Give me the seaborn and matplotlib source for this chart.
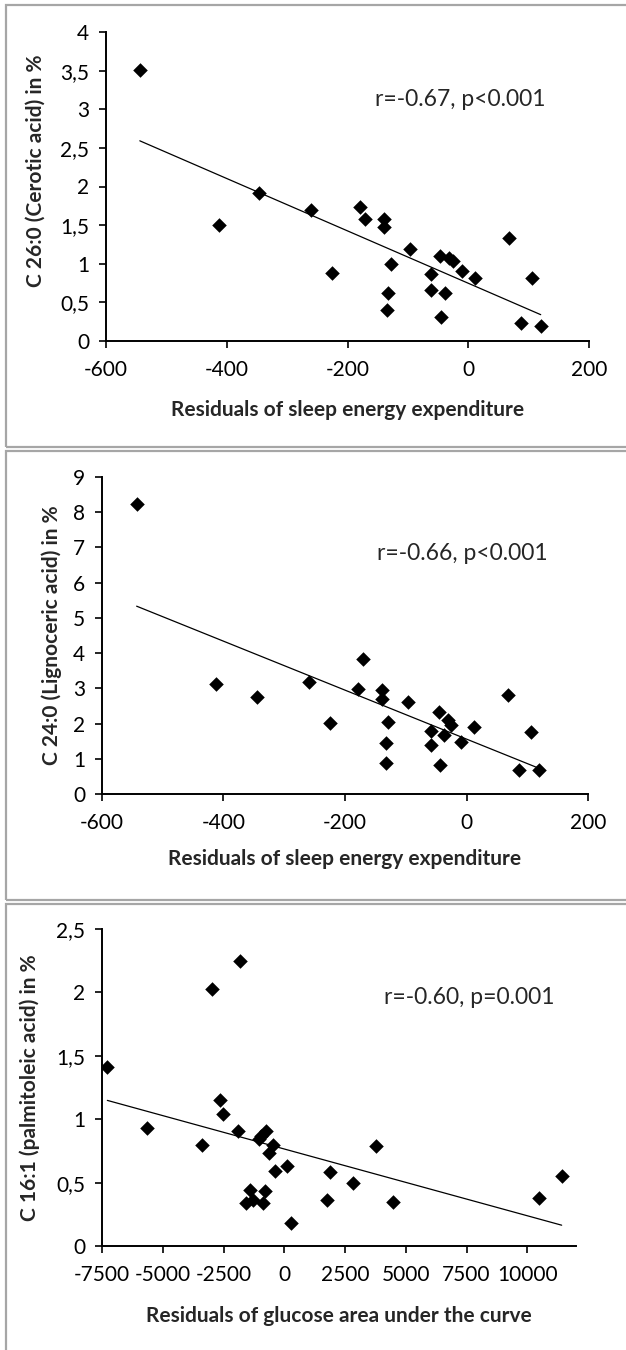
import numpy as np
import seaborn as sns
import matplotlib.pyplot as plt
from matplotlib.patches import Rectangle
from matplotlib.ticker import FuncFormatter, MultipleLocator

# residuos do gasto energetico do sono (paineis 1 e 2)
sleep_resid = [-544, -413, -347, -261, -226, -179, -171, -140, -140, -133,
               -134, -128, -96, -61, -61, -46, -45, -38, -32, -26,
               -10, 12, 67, 87, 105, 120]
cerotic = [3.51, 1.50, 1.91, 1.69, 0.88, 1.74, 1.58, 1.585, 1.47, 0.62,
           0.40, 1.00, 1.19, 0.87, 0.66, 1.10, 0.31, 0.62, 1.08, 1.04,
           0.91, 0.82, 1.33, 0.23, 0.82, 0.20]

sleep_resid2 = [-543, -412, -345, -260, -224, -178, -170, -139, -139, -132,
                -132, -130, -97, -59, -59, -45, -44, -37, -31, -26,
                -9, 13, 68, 87, 106, 120]
lignoceric = [8.23, 3.12, 2.74, 3.17, 2.02, 2.99, 3.82, 2.95, 2.69, 1.45,
              0.87, 2.03, 2.61, 1.80, 1.40, 2.34, 0.81, 1.67, 2.11, 1.95,
              1.49, 1.91, 2.82, 0.67, 1.76, 0.69]

# residuos da area sob a curva da glicose (painel 3)
glucose_resid = [-7280, -5630, -3370, -2980, -2660, -2510, -1840, -1910, -1590, -1410,
                 -1280, -890, -1050, -950, -770, -780, -640, -480, -370, 120,
                 270, 1750, 1890, 2840, 3790, 4490, 10470, 11410]
palmitoleic = [1.41, 0.93, 0.80, 2.03, 1.15, 1.04, 2.25, 0.91, 0.34, 0.44,
               0.36, 0.34, 0.84, 0.87, 0.91, 0.43, 0.73, 0.80, 0.59, 0.63,
               0.18, 0.36, 0.58, 0.50, 0.79, 0.35, 0.38, 0.55]

sns.set_style('ticks')
plt.rcParams['font.family'] = ['Lato', 'DejaVu Sans']

W, H = 626, 1350
fig = plt.figure(figsize=(W / 100, H / 100), dpi=100)

def px_axes(left, right, top, bottom):
    return fig.add_axes([left / W, 1 - bottom / H, (right - left) / W, (bottom - top) / H])

comma = FuncFormatter(lambda v, p: f"{v:g}".replace('.', ','))

paineis = [
    dict(x=sleep_resid, y=cerotic, box=(106, 589, 32, 341), xlim=(-600, 200), xstep=200,
         ylim=(0, 4), ystep=0.5, ylabel='C 26:0 (Cerotic acid) in %',
         xlabel='Residuals of sleep energy expenditure', txt='r=-0.67, p<0.001',
         txtpos=(0.733, 0.78), ylab=(-0.124, 0.55), xlab_y=-0.19),
    dict(x=sleep_resid2, y=lignoceric, box=(102, 588, 477, 794), xlim=(-600, 200), xstep=200,
         ylim=(0, 9), ystep=1, ylabel='C 24:0 (Lignoceric acid) in %',
         xlabel='Residuals of sleep energy expenditure', txt='r=-0.66, p<0.001',
         txtpos=(0.741, 0.76), ylab=(-0.082, 0.5), xlab_y=-0.175),
    dict(x=glucose_resid, y=palmitoleic, box=(102, 576, 929, 1246), xlim=(-7500, 12000), xstep=2500,
         ylim=(0, 2.5), ystep=0.5, ylabel='C 16:1 (palmitoleic acid) in %',
         xlabel='Residuals of glucose area under the curve', txt='r=-0.60, p=0.001',
         txtpos=(0.774, 0.785), ylab=(-0.131, 0.5), xlab_y=-0.19),
]

for p in paineis:
    ax = px_axes(*p['box'])
    sns.regplot(x=np.array(p['x']), y=np.array(p['y']), ax=ax, ci=None, marker='D', color='black',
                scatter_kws={'s': 55, 'linewidths': 0, 'alpha': 1},
                line_kws={'lw': 0.9, 'color': 'black'})
    ax.set_xlim(*p['xlim'])
    ax.set_ylim(*p['ylim'])
    ax.xaxis.set_major_locator(MultipleLocator(p['xstep']))
    ax.yaxis.set_major_locator(MultipleLocator(p['ystep']))
    if p['xstep'] == 2500:
        ax.set_xticks(np.arange(-7500, 10001, 2500))
    ax.yaxis.set_major_formatter(comma)
    ax.xaxis.set_major_formatter(comma)
    sns.despine(ax=ax)
    for s in ('left', 'bottom'):
        ax.spines[s].set_linewidth(1.4)
        ax.spines[s].set_color('black')
    ax.tick_params(direction='out', length=5, width=1.2, labelsize=15, colors='black')
    ax.tick_params(axis='x', pad=9)
    ax.tick_params(axis='y', pad=7)
    ax.set_xlabel(p['xlabel'], fontsize=15, fontweight='bold')
    ax.set_ylabel(p['ylabel'], fontsize=15, fontweight='bold')
    ax.yaxis.set_label_coords(*p['ylab'])
    ax.xaxis.set_label_coords(0.5, p['xlab_y'])
    ax.text(p['txtpos'][0], p['txtpos'][1], p['txt'], transform=ax.transAxes,
            ha='center', va='center', fontsize=16.5)

# molduras cinzas de cada painel
for top, bot in [(5, 447), (451, 900), (904, 1360)]:
    fig.add_artist(Rectangle((5.5 / W, 1 - bot / H), 1, (bot - top) / H, transform=fig.transFigure,
                             fill=False, edgecolor='#a6a6a6', lw=1.6))

fig.savefig('out.png', dpi=100)
